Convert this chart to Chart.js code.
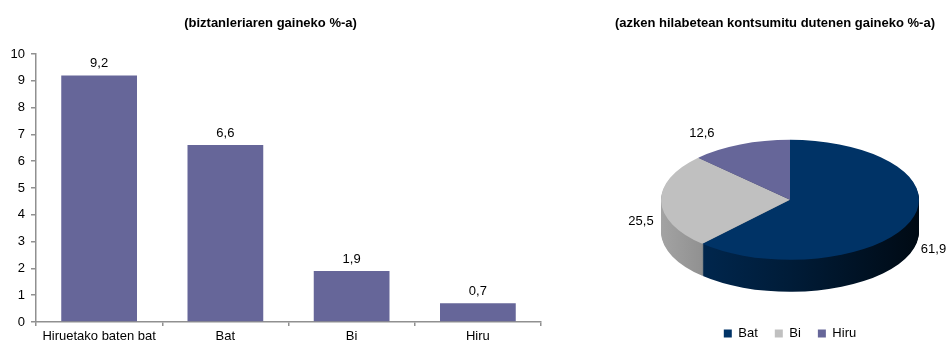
<!DOCTYPE html>
<html>
<head>
<meta charset="utf-8">
<script src="https://cdn.jsdelivr.net/npm/chart.js@4.4.1/dist/chart.umd.min.js"></script>
<style>
  html, body { margin: 0; padding: 0; background: #fff; overflow: hidden; }
  body { width: 950px; height: 343px; position: relative; }
  #barChart { position: absolute; left: 0; top: 0; }
  #pieChart { position: absolute; left: 600px; top: 0; }
</style>
</head>
<body>
<canvas id="barChart" width="580" height="343"></canvas>
<canvas id="pieChart" width="365" height="343"></canvas>
<script>
// bar chart data
const barLabels = ['Hiruetako baten bat', 'Bat', 'Bi', 'Hiru']
const barValues = [9.2, 6.6, 1.9, 0.7]
const yTicks = [0, 1, 2, 3, 4, 5, 6, 7, 8, 9, 10]

// pie chart data
const pieLabels = ['Bat', 'Bi', 'Hiru']
const pieValues = [61.9, 25.5, 12.6]
const pieColors = ['#003366', '#c0c0c0', '#666699']

const FONT = "'Liberation Sans', Arial, sans-serif"
const fmt = v => v.toFixed(1).replace('.', ',')

Chart.defaults.font.family = FONT
Chart.defaults.font.size = 13
Chart.defaults.color = '#000'

// value labels above bars
const barValueLabels = {
  id: 'barValueLabels',
  afterDatasetsDraw(chart) {
    const ctx = chart.ctx
    const meta = chart.getDatasetMeta(0)
    ctx.save()
    ctx.font = '13px ' + FONT
    ctx.fillStyle = '#000'
    ctx.textAlign = 'center'
    ctx.textBaseline = 'middle'
    meta.data.forEach((bar, i) => {
      ctx.fillText(fmt(barValues[i]), bar.x, bar.y - 12)
    })
    ctx.restore()
  }
}

new Chart(document.getElementById('barChart'), {
  type: 'bar',
  data: {
    labels: barLabels,
    datasets: [{
      data: barValues,
      backgroundColor: '#666699',
      barPercentage: 0.6,
      categoryPercentage: 1
    }]
  },
  options: {
    responsive: false,
    animation: false,
    events: [],
    layout: { padding: { right: 39 } },
    plugins: {
      legend: { display: false },
      tooltip: { enabled: false },
      title: {
        display: true,
        text: '(biztanleriaren gaineko %-a)',
        font: { size: 13, weight: 'bold' },
        padding: { top: 16, bottom: 22.4 }
      }
    },
    scales: {
      x: {
        afterFit: s => { s.height = 21 },
        grid: { offset: true, drawOnChartArea: false, tickLength: 4, color: '#909090', lineWidth: 1.5 },
        border: { color: '#909090', width: 1.5 },
        ticks: { padding: 3, color: '#000', maxRotation: 0 }
      },
      y: {
        min: 0,
        max: 10,
        afterFit: s => { s.width = 36 },
        afterBuildTicks: s => { s.ticks = yTicks.map(v => ({ value: v })) },
        grid: { drawOnChartArea: false, tickLength: 5, color: '#909090', lineWidth: 1.5 },
        border: { color: '#909090', width: 1.5 },
        ticks: { padding: 6, color: '#000' }
      }
    }
  },
  plugins: [barValueLabels]
})

// 3D look for the pie: squash it and stack darker copies below
const TILT = 0.465
const DEPTH = 32

function shade(hex, f) {
  const n = parseInt(hex.slice(1), 16)
  const r = Math.round(((n >> 16) & 255) * f)
  const g = Math.round(((n >> 8) & 255) * f)
  const b = Math.round((n & 255) * f)
  return `rgb(${r},${g},${b})`
}

const pie3d = {
  id: 'pie3d',
  beforeDatasetsDraw(chart) {
    const ctx = chart.ctx
    const meta = chart.getDatasetMeta(0)
    const cx = meta.data[0].x, cy = meta.data[0].y
    const r = meta.data[0].outerRadius
    const sides = pieColors.map(c => {
      const g = ctx.createLinearGradient(cx - r, 0, cx + r, 0)
      g.addColorStop(0, shade(c, 0.85))
      g.addColorStop(0.5, shade(c, 0.55))
      g.addColorStop(1, shade(c, 0.2))
      return g
    })
    for (let d = DEPTH; d > 0; d--) {
      ctx.save()
      ctx.translate(cx, cy + d)
      ctx.scale(1, TILT)
      ctx.translate(-cx, -cy)
      meta.data.forEach((el, i) => {
        const saved = el.options
        el.options = Object.assign({}, saved, { backgroundColor: sides[i], borderColor: sides[i] })
        el.draw(ctx)
        el.options = saved
      })
      ctx.restore()
    }
    ctx.save()
    ctx.translate(cx, cy)
    ctx.scale(1, TILT)
    ctx.translate(-cx, -cy)
  },
  afterDatasetsDraw(chart) {
    const ctx = chart.ctx
    ctx.restore()
    const meta = chart.getDatasetMeta(0)
    ctx.save()
    ctx.font = '13px ' + FONT
    ctx.fillStyle = '#000'
    ctx.textAlign = 'center'
    ctx.textBaseline = 'middle'
    meta.data.forEach((el, i) => {
      const mid = (el.startAngle + el.endAngle) / 2
      const r = el.outerRadius
      const c = Math.cos(mid), s = Math.sin(mid)
      // labels sit further out near the top/bottom of the tilted pie
      const x = el.x + (r + 20) * c + Math.sign(c) * 36 * s * s
      const y = el.y + 20 + (r * TILT + 20 + 16 * s * s) * s
      ctx.fillText(fmt(pieValues[i]), x, y)
    })
    ctx.restore()
  }
}

new Chart(document.getElementById('pieChart'), {
  type: 'pie',
  data: {
    labels: pieLabels,
    datasets: [{
      data: pieValues,
      backgroundColor: pieColors,
      borderWidth: 0,
      radius: 129,
      clip: false
    }]
  },
  options: {
    responsive: false,
    animation: false,
    events: [],
    layout: { padding: { left: 15, bottom: -7 } },
    plugins: {
      tooltip: { enabled: false },
      title: {
        display: true,
        align: 'start',
        text: '(azken hilabetean kontsumitu dutenen gaineko %-a)',
        font: { size: 13, weight: 'bold' },
        padding: { top: 16, bottom: 58 }
      },
      legend: {
        position: 'bottom',
        labels: { boxWidth: 8, boxHeight: 8, padding: 17, color: '#000', font: { size: 13 } }
      }
    }
  },
  plugins: [pie3d]
})
</script>
</body>
</html>
